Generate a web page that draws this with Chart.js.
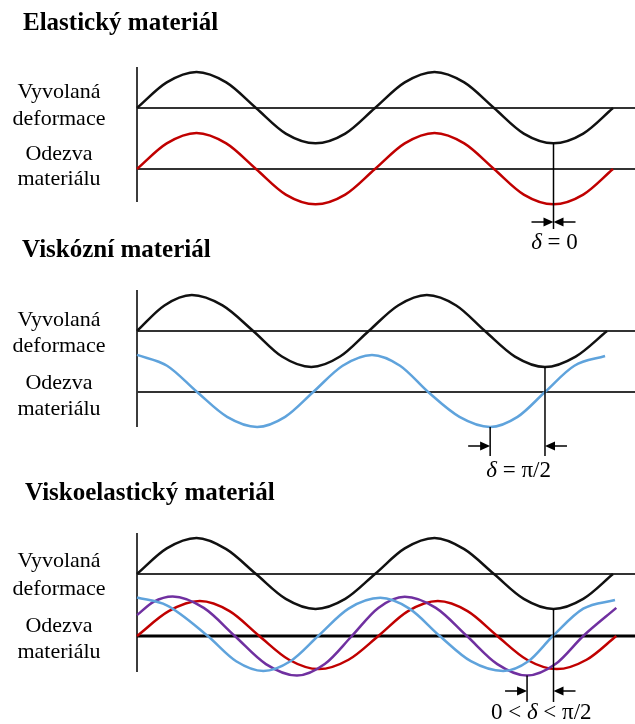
<!DOCTYPE html>
<html>
<head>
<meta charset="utf-8">
<script src="https://cdn.jsdelivr.net/npm/chart.js@4.4.0/dist/chart.umd.min.js"></script>
<style>
  html, body { margin: 0; padding: 0; background: #fff; }
  #wrap { width: 635px; height: 724px; }
</style>
</head>
<body>
<div id="wrap"><canvas id="waves" width="635" height="724"></canvas></div>
<script>
// phase of each sample, in degrees of the imposed deformation
const phase = [0, 45, 90, 135, 180, 225, 270, 315, 360, 405, 450, 495, 540, 585, 630, 675, 720];

// Elastický materiál
const elasticStrain = [0, 0.71, 1, 0.71, 0, -0.71, -0.98, -0.71, 0, 0.71, 1, 0.71, 0, -0.71, -0.98, -0.71, 0];
const elasticStress = [0, 0.71, 1, 0.71, 0, -0.71, -0.98, -0.71, 0, 0.71, 1, 0.71, 0, -0.71, -0.98, -0.71, 0];

// Viskózní materiál
const viscousStrainPhase = [0, 42, 84, 131, 178, 222, 267, 311, 355, 400, 444, 489, 533, 579, 625, 672, 720];
const viscousStrain = [0, 0.71, 1, 0.71, 0, -0.71, -1, -0.71, 0, 0.71, 1, 0.71, 0, -0.71, -1, -0.71, 0];
const viscousStressPhase = [0, 46, 92, 138, 184, 227, 270, 315, 360, 403, 446, 494, 541, 583, 625, 670, 717];
const viscousStress = [1.03, 0.73, 0, -0.69, -0.97, -0.69, 0, 0.73, 1.03, 0.73, 0, -0.69, -0.97, -0.69, 0, 0.73, 1];

// Viskoelastický materiál
const veStrain = [0, 0.71, 1, 0.69, 0, -0.69, -0.97, -0.69, 0, 0.71, 1, 0.69, 0, -0.69, -0.97, -0.69, 0];
const veRedPhase = [0, 48, 95, 140, 185, 230, 275, 320, 365, 410, 455, 500, 545, 590, 635, 680, 725];
const veRed = [0, 0.69, 0.97, 0.69, 0, -0.66, -0.92, -0.66, 0, 0.69, 0.97, 0.69, 0, -0.66, -0.92, -0.66, 0];
const veBluePhase = [0, 45, 107, 150, 191, 232, 274, 320, 368, 412, 458, 505, 554, 592, 629, 675, 723];
const veBlue = [1.07, 0.85, 0, -0.7, -0.97, -0.7, 0, 0.76, 1.06, 0.76, 0, -0.7, -0.97, -0.7, 0, 0.76, 1];
const vePurplePhase = [0, 25, 54, 101, 148, 195, 242, 284, 325, 365, 405, 452, 499, 545, 590, 633, 675, 725];
const vePurple = [0.58, 0.95, 1.1, 0.78, 0, -0.78, -1.1, -0.78, 0, 0.78, 1.09, 0.78, 0, -0.78, -1.1, -0.78, 0, 0.78];

const titles = ['Elastický materiál', 'Viskózní materiál', 'Viskoelastický materiál'];
const rowLabels = ['Vyvolaná', 'deformace', 'Odezva', 'materiálu'];
const deltaLabels = ['δ = 0', 'δ = π/2', '0 < δ < π/2'];

const BLACK = '#111111', RED = '#c00000', BLUE = '#5fa3dc', PURPLE = '#7030a0';
const SERIF = '"Liberation Serif", "Times New Roman", serif';

// plot area in canvas pixels, and pixels per amplitude unit
const AREA = { left: 137, right: 635, top: 67, bottom: 672 };
const UNIT = 36;

function yRange(baseline) {
  return { min: -(AREA.bottom - baseline) / UNIT, max: (baseline - AREA.top) / UNIT };
}
// endPx = where 720 degrees lands
function xRange(endPx) {
  const perDeg = (endPx - AREA.left) / 720;
  return { min: 0, max: (AREA.right - AREA.left) / perDeg };
}

const panels = [
  { title: titles[0], titleX: 23, titleY: 30, axisTop: 67, axisBottom: 202,
    labelY: [98, 125, 160, 185], yIds: ['y1a', 'y1b'],
    left: [0, 14], right: [0, 14], dropTo: 229, arrowY: 222, textY: 249, label: deltaLabels[0] },
  { title: titles[1], titleX: 22, titleY: 257, axisTop: 290, axisBottom: 427,
    labelY: [326, 352, 389, 415], yIds: ['y2a', 'y2b'],
    left: [3, 12], right: [2, 14], dropTo: 456, arrowY: 446, textY: 477, label: deltaLabels[1] },
  { title: titles[2], titleX: 25, titleY: 500, axisTop: 533, axisBottom: 672,
    labelY: [567, 595, 632, 658], yIds: ['y3a', 'y3b'], thickLower: true,
    left: [6, 14], right: [4, 14], dropTo: 702, arrowY: 691, textY: 719, label: deltaLabels[2] }
];

function pts(xs, ys) {
  return ys.map((y, i) => ({ x: xs[i], y: y }));
}

function line(ctx, x1, y1, x2, y2) {
  ctx.beginPath();
  ctx.moveTo(x1, y1);
  ctx.lineTo(x2, y2);
  ctx.stroke();
}

function arrow(ctx, fromX, toX, y) {
  const dir = Math.sign(toX - fromX);
  line(ctx, fromX, y, toX - dir * 6, y);
  ctx.beginPath();
  ctx.moveTo(toX, y);
  ctx.lineTo(toX - dir * 10, y - 4.5);
  ctx.lineTo(toX - dir * 10, y + 4.5);
  ctx.closePath();
  ctx.fill();
}

// δ is set in italic, the rest upright
function drawDelta(ctx, text, cx, baseline) {
  const up = '23px ' + SERIF, it = 'italic 23px ' + SERIF;
  const pieces = [];
  text.split('δ').forEach((p, i) => {
    if (i > 0) pieces.push(['δ', it]);
    if (p) pieces.push([p, up]);
  });
  let w = 0;
  pieces.forEach(pc => { ctx.font = pc[1]; w += ctx.measureText(pc[0]).width; });
  let x = cx - w / 2;
  ctx.textAlign = 'left';
  pieces.forEach(pc => {
    ctx.font = pc[1];
    ctx.fillText(pc[0], x, baseline);
    x += ctx.measureText(pc[0]).width;
  });
}

const framePlugin = {
  id: 'frame',
  beforeDatasetsDraw(chart) {
    const ctx = chart.ctx;
    const area = chart.chartArea;
    ctx.save();
    panels.forEach(p => {
      ctx.strokeStyle = '#3c3c3c';
      ctx.lineWidth = 2;
      line(ctx, area.left, p.axisTop, area.left, p.axisBottom);
      p.yIds.forEach((id, k) => {
        const y = chart.scales[id].getPixelForValue(0);
        ctx.strokeStyle = (p.thickLower && k === 1) ? '#000' : '#333';
        ctx.lineWidth = (p.thickLower && k === 1) ? 3 : 2;
        line(ctx, area.left, y, area.right, y);
      });
    });
    ctx.restore();
  },
  afterDatasetsDraw(chart) {
    const ctx = chart.ctx;
    ctx.save();
    ctx.fillStyle = '#000';
    ctx.textBaseline = 'alphabetic';
    panels.forEach(p => {
      ctx.font = 'bold 25px ' + SERIF;
      ctx.textAlign = 'left';
      ctx.fillText(p.title, p.titleX, p.titleY);

      ctx.font = '22px ' + SERIF;
      ctx.textAlign = 'center';
      rowLabels.forEach((t, i) => ctx.fillText(t, 59, p.labelY[i]));

      // phase-shift marker between the two troughs
      const a = chart.getDatasetMeta(p.left[0]).data[p.left[1]];
      const b = chart.getDatasetMeta(p.right[0]).data[p.right[1]];
      ctx.strokeStyle = '#000';
      ctx.lineWidth = 1.5;
      line(ctx, a.x, a.y, a.x, p.dropTo);
      if (b !== a) line(ctx, b.x, b.y, b.x, p.dropTo);
      arrow(ctx, a.x - 22, a.x, p.arrowY);
      arrow(ctx, b.x + 22, b.x, p.arrowY);
      drawDelta(ctx, p.label, (a.x + b.x) / 2 + 1, p.textY);
    });
    ctx.restore();
  }
};

function wave(data, color, xAxisID, yAxisID) {
  return {
    data: data, borderColor: color, borderWidth: 2.5, pointRadius: 0,
    cubicInterpolationMode: 'monotone', fill: false, clip: false,
    xAxisID: xAxisID, yAxisID: yAxisID
  };
}

const hidden = { type: 'linear', display: false };

new Chart(document.getElementById('waves').getContext('2d'), {
  type: 'line',
  data: {
    datasets: [
      wave(pts(phase, elasticStrain), BLACK, 'x1', 'y1a'),
      wave(pts(phase, elasticStress), RED, 'x1', 'y1b'),
      wave(pts(viscousStrainPhase, viscousStrain), BLACK, 'x2', 'y2a'),
      wave(pts(viscousStressPhase, viscousStress), BLUE, 'x2', 'y2b'),
      wave(pts(phase, veStrain), BLACK, 'x3', 'y3a'),
      wave(pts(veBluePhase, veBlue), BLUE, 'x3', 'y3b'),
      wave(pts(vePurplePhase, vePurple), PURPLE, 'x3', 'y3b'),
      wave(pts(veRedPhase, veRed), RED, 'x3', 'y3b')
    ]
  },
  options: {
    responsive: false,
    animation: false,
    events: [],
    layout: { padding: { left: AREA.left, right: 635 - AREA.right, top: AREA.top, bottom: 724 - AREA.bottom } },
    plugins: { legend: { display: false }, tooltip: { enabled: false } },
    scales: {
      x1: Object.assign({}, hidden, { position: 'bottom' }, xRange(613)),
      x2: Object.assign({}, hidden, { position: 'bottom' }, xRange(607)),
      x3: Object.assign({}, hidden, { position: 'bottom' }, xRange(613)),
      y1a: Object.assign({}, hidden, yRange(108)),
      y1b: Object.assign({}, hidden, yRange(169)),
      y2a: Object.assign({}, hidden, yRange(331)),
      y2b: Object.assign({}, hidden, yRange(392)),
      y3a: Object.assign({}, hidden, yRange(574)),
      y3b: Object.assign({}, hidden, yRange(636))
    }
  },
  plugins: [framePlugin]
});
</script>
</body>
</html>
